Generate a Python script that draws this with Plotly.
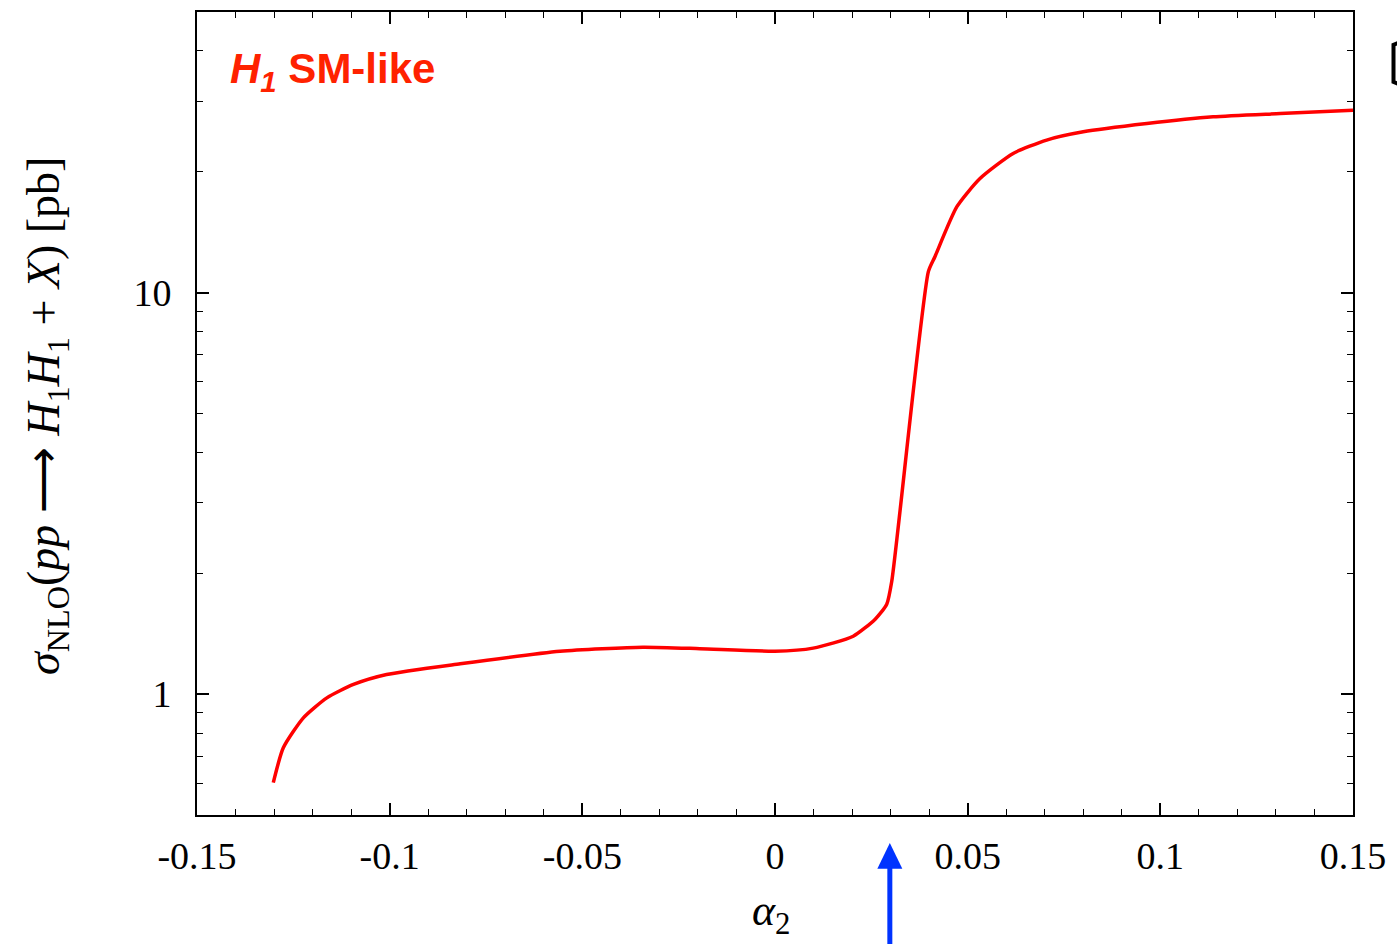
import plotly.graph_objects as go

# data
alpha2 = [-0.1302, -0.1276, -0.1224, -0.1163, -0.1094, -0.1008, -0.0817, -0.0558,
          -0.0343, -0.0195, 0.0, 0.0099, 0.0203, 0.0260, 0.0290, 0.0303,
          0.0398, 0.0415, 0.0472, 0.0532, 0.0618, 0.0705, 0.0800, 0.0965,
          0.1137, 0.1311, 0.1500]
sigma = [0.602, 0.735, 0.873, 0.979, 1.057, 1.119, 1.190, 1.279,
         1.309, 1.298, 1.279, 1.302, 1.394, 1.537, 1.675, 1.91,
         11.28, 12.29, 16.37, 19.24, 22.21, 23.99, 25.15, 26.37,
         27.41, 27.93, 28.48]

x_tickvals = [-0.15, -0.1, -0.05, 0, 0.05, 0.1, 0.15]
x_ticktext = ["-0.15", "-0.1", "-0.05", "0", "0.05", "0.1", "0.15"]
y_tickvals = [1, 10]
y_ticktext = ["1", "10"]

ARROW_X = 0.0298

SERIF = "Liberation Serif"

fig = go.Figure()
fig.add_trace(go.Scatter(x=alpha2, y=sigma, mode="lines",
                         line=dict(color="#ff0000", width=3.5, shape="spline",
                                   smoothing=0.6),
                         showlegend=False))

axis_common = dict(
    showline=True, linecolor="black", linewidth=2, mirror="allticks",
    ticks="inside", ticklen=12, tickwidth=1.5, tickcolor="black",
    showgrid=False, zeroline=False,
    tickfont=dict(family=SERIF, size=38, color="black"),
)

fig.update_layout(
    width=1397, height=944,
    margin=dict(l=197, r=44, t=10, b=129),
    plot_bgcolor="white", paper_bgcolor="white",
    xaxis=dict(range=[-0.15, 0.15], tickvals=x_tickvals, ticktext=x_ticktext,
               minor=dict(ticks="inside", ticklen=6, tickwidth=1.2, tickcolor="black",
                          dtick=0.01, tick0=0, showgrid=False),
               ticklabelstandoff=6,
               **axis_common),
    yaxis=dict(type="log", range=[-0.30103, 1.69897], tickvals=y_tickvals,
               ticktext=y_ticktext,
               minor=dict(ticks="inside", ticklen=6, tickwidth=1.2, tickcolor="black",
                          tickvals=[0.5, 0.6, 0.7, 0.8, 0.9, 2, 3, 4, 5, 6, 7, 8, 9,
                                    20, 30, 40, 50],
                          showgrid=False),
               ticklabelstandoff=16,
               **axis_common),
)

# axis titles
fig.add_annotation(xref="paper", yref="paper", x=0.497, y=(815 - 914) / 805,
                   text="<i>α</i><sub>2</sub>", showarrow=False,
                   font=dict(family=SERIF, size=44, color="black"),
                   xanchor="center", yanchor="middle")
fig.add_annotation(xref="paper", yref="paper", x=(47 - 197) / 1156, y=0.497,
                   text="<i>σ</i><sub>NLO</sub>(<i>pp</i> ⟶ <i>H</i><sub>1</sub><i>H</i><sub>1</sub> + <i>X</i>) [pb]",
                   showarrow=False, textangle=-90,
                   font=dict(family=SERIF, size=46, color="black"),
                   xanchor="center", yanchor="middle")

# legend-like label
fig.add_annotation(xref="paper", yref="paper", x=(228 - 197) / 1156, y=(815 - 70) / 805,
                   text="<b><i>H<sub>1</sub></i> SM-like</b>", showarrow=False,
                   font=dict(family="Liberation Sans", size=42, color="#ff2200"),
                   xanchor="left", yanchor="middle")

# blue arrow below the axis
hw = 12.5 * 0.3 / 1156
fig.add_shape(type="line", xref="x", yref="paper",
              x0=ARROW_X, x1=ARROW_X, y0=(815 - 865) / 805, y1=(815 - 960) / 805,
              line=dict(color="#0033ff", width=5))
fig.add_shape(type="path", xref="x", yref="paper",
              path=f"M {ARROW_X - hw},{(815 - 869) / 805} L {ARROW_X},{(815 - 843) / 805} "
                   f"L {ARROW_X + hw},{(815 - 869) / 805} Z",
              fillcolor="#0033ff", line=dict(color="#0033ff", width=0))

# clipped bracket at the right edge
fig.add_shape(type="path", xref="paper", yref="paper",
              path=f"M {(1398 - 197) / 1156},{(815 - 41) / 805} "
                   f"L {(1393.5 - 197) / 1156},{(815 - 43) / 805} "
                   f"L {(1393.5 - 197) / 1156},{(815 - 80) / 805} "
                   f"L {(1398 - 197) / 1156},{(815 - 82) / 805}",
              line=dict(color="black", width=4))

fig.write_html("out.html")
